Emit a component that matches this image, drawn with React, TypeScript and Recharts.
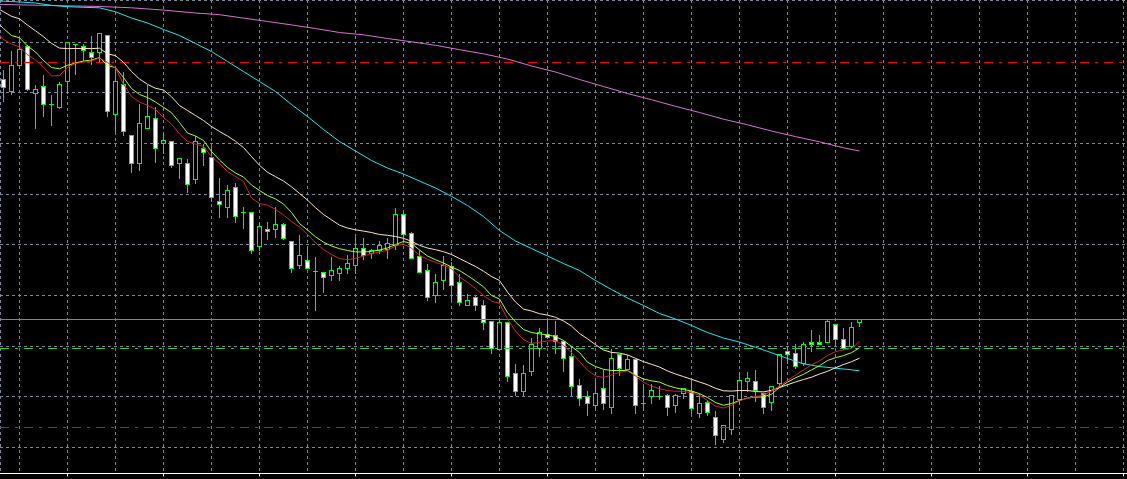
import React from "react";
import { ComposedChart, Bar, Line, XAxis, YAxis, CartesianGrid, ReferenceLine } from "recharts";

// ---- Candles (index 0..107), prices ----
const opens = [
  139.207, 139.087, 139.353, 139.545, 139.067, 139.137, 138.963, 138.933, 139.187, 139.557,
  139.543, 139.477, 139.477, 139.647, 138.857, 139.157, 138.647, 138.367, 138.717, 138.817,
  138.567, 138.587, 138.367, 138.367, 138.207, 138.523, 138.427, 137.987, 137.927, 138.127,
  137.877, 137.877, 137.537, 137.707, 137.707, 137.757, 137.587, 137.347, 137.397, 137.287,
  137.277, 137.247, 137.267, 137.317, 137.347, 137.517, 137.467, 137.497, 137.507, 137.547,
  137.857, 137.667, 137.437, 137.297, 137.047, 137.197, 137.337, 137.177, 136.947, 137.027,
  136.947, 136.787, 136.507, 136.777, 136.267, 136.087, 136.287, 136.517, 136.657, 136.647,
  136.587, 136.437, 136.147, 136.037, 135.947, 136.117, 135.927, 136.457, 136.307, 136.407,
  135.967, 136.037, 136.037, 136.047, 135.947, 136.067, 136.087, 135.867, 135.977, 135.827,
  135.607, 135.707, 136.007, 136.187, 136.187, 136.067, 135.977, 136.167, 136.487, 136.467,
  136.367, 136.577, 136.577, 136.577, 136.757, 136.607, 136.537, 136.777,
];
const highs = [
  139.307, 139.5, 139.62, 139.56, 139.16, 139.26, 139.06, 139.19, 139.58, 139.56,
  139.567, 139.65, 139.673, 139.66, 139.317, 139.283, 138.65, 138.967, 139.16, 138.933,
  138.667, 138.6, 138.42, 138.42, 138.647, 138.567, 138.533, 138.227, 138.157, 138.177,
  137.937, 137.88, 137.787, 137.787, 137.937, 137.777, 137.59, 137.657, 137.547, 137.437,
  137.28, 137.437, 137.347, 137.457, 137.637, 137.627, 137.517, 137.6, 137.627, 137.93,
  137.893, 137.687, 137.507, 137.367, 137.267, 137.447, 137.387, 137.267, 137.067, 137.047,
  137.007, 136.79, 136.807, 136.78, 136.367, 136.357, 136.627, 136.727, 136.797, 136.797,
  136.607, 136.55, 136.217, 136.097, 136.207, 136.307, 136.517, 136.467, 136.457, 136.41,
  136.147, 136.167, 136.147, 136.067, 136.067, 136.127, 136.207, 136.067, 136.007, 135.897,
  135.75, 136.05, 136.287, 136.287, 136.307, 136.07, 136.14, 136.46, 136.547, 136.567,
  136.587, 136.707, 136.657, 136.807, 136.76, 136.727, 136.787, 136.807,
];
const lows = [
  138.983, 139.06, 139.35, 139.1, 138.713, 138.833, 138.743, 138.913, 139.067, 139.253,
  139.4, 139.36, 139.383, 138.833, 138.683, 138.647, 138.273, 138.293, 138.713, 138.373,
  138.467, 138.327, 138.217, 138.073, 138.167, 138.347, 137.987, 137.827, 137.827, 137.777,
  137.717, 137.467, 137.497, 137.607, 137.627, 137.607, 137.277, 137.317, 137.315, 136.897,
  137.077, 137.197, 137.197, 137.267, 137.267, 137.407, 137.417, 137.47, 137.417, 137.507,
  137.577, 137.415, 137.275, 136.997, 136.977, 137.107, 137.007, 136.947, 136.945, 136.897,
  136.707, 136.467, 136.505, 136.187, 136.047, 136.047, 136.247, 136.437, 136.625, 136.467,
  136.287, 136.047, 135.947, 135.847, 135.907, 135.907, 135.867, 136.247, 136.297, 135.867,
  135.897, 135.967, 136.007, 135.847, 135.877, 136.017, 135.867, 135.827, 135.847, 135.557,
  135.577, 135.657, 135.957, 136.087, 135.99, 135.867, 135.897, 136.137, 136.367, 136.317,
  136.347, 136.487, 136.555, 136.575, 136.547, 136.507, 136.527, 136.737,
];
const closes = [
  139.127, 139.347, 139.51, 139.107, 139.107, 138.957, 138.963, 139.157, 139.577, 139.557,
  139.497, 139.427, 139.667, 138.887, 139.187, 138.687, 138.367, 138.767, 138.837, 138.517,
  138.597, 138.347, 138.417, 138.157, 138.587, 138.477, 138.027, 137.957, 138.097, 137.837,
  137.877, 137.497, 137.737, 137.687, 137.757, 137.617, 137.317, 137.447, 137.317, 137.287,
  137.227, 137.297, 137.317, 137.367, 137.517, 137.447, 137.497, 137.547, 137.567, 137.857,
  137.657, 137.417, 137.277, 137.027, 137.177, 137.347, 137.147, 136.977, 136.997, 136.947,
  136.777, 136.517, 136.777, 136.237, 136.087, 136.267, 136.557, 136.677, 136.627, 136.587,
  136.417, 136.137, 136.017, 135.967, 136.067, 135.967, 136.417, 136.317, 136.407, 135.947,
  135.967, 136.097, 136.037, 135.927, 136.047, 136.117, 135.917, 135.967, 135.877, 135.647,
  135.747, 136.047, 136.197, 136.217, 136.097, 135.927, 136.137, 136.457, 136.457, 136.337,
  136.557, 136.557, 136.557, 136.787, 136.607, 136.517, 136.727, 136.807,
];

// ---- Moving averages, one value per bar from index -1 to 107 ----
const maStartIndex = -1;
const maRed = [
  139.7, 139.61, 139.565, 139.535, 139.458, 139.405, 139.33, 139.245, 139.25, 139.33, 139.37,
  139.383, 139.395, 139.425, 139.38, 139.325, 139.165, 139.04, 138.985, 138.952, 138.91,
  138.83, 138.765, 138.665, 138.59, 138.565, 138.54, 138.44, 138.37, 138.29, 138.24,
  138.19, 138.025, 137.97, 137.953, 137.912, 137.854, 137.79, 137.735, 137.66, 137.577,
  137.51, 137.46, 137.42, 137.408, 137.421, 137.445, 137.47, 137.484, 137.502, 137.545,
  137.565, 137.523, 137.452, 137.412, 137.382, 137.355, 137.318, 137.235, 137.183, 137.12,
  137.05, 136.995, 136.97, 136.817, 136.693, 136.61, 136.57, 136.582, 136.596, 136.6,
  136.55, 136.48, 136.39, 136.304, 136.246, 136.23, 136.255, 136.281, 136.296, 136.245,
  136.182, 136.144, 136.118, 136.099, 136.093, 136.09, 136.078, 136.052, 136.0, 135.943,
  135.925, 135.95, 135.995, 136.025, 136.037, 136.055, 136.093, 136.147, 136.2, 136.254,
  136.306, 136.357, 136.397, 136.45, 136.488, 136.506, 136.52, 136.59,
];
const maGreen = [
  139.8, 139.72, 139.65, 139.627, 139.545, 139.485, 139.4, 139.33, 139.317, 139.352, 139.375,
  139.395, 139.404, 139.43, 139.35, 139.328, 139.23, 139.12, 139.06, 139.03, 138.985,
  138.932, 138.878, 138.78, 138.675, 138.645, 138.6, 138.49, 138.405, 138.33, 138.275,
  138.235, 138.155, 138.1, 138.05, 138.015, 137.965, 137.88, 137.77, 137.705, 137.637,
  137.583, 137.545, 137.518, 137.5, 137.487, 137.485, 137.491, 137.505, 137.525, 137.56,
  137.59, 137.57, 137.505, 137.445, 137.408, 137.375, 137.335, 137.3, 137.25, 137.195,
  137.137, 137.05, 137.015, 136.88, 136.785, 136.71, 136.68, 136.667, 136.654, 136.64,
  136.6, 136.54, 136.48, 136.383, 136.34, 136.312, 136.3, 136.3, 136.3, 136.255,
  136.214, 136.197, 136.184, 136.15, 136.127, 136.11, 136.095, 136.068, 136.03, 135.98,
  135.952, 135.97, 136.0, 136.025, 136.033, 136.037, 136.063, 136.13, 136.184, 136.227,
  136.262, 136.306, 136.348, 136.4, 136.428, 136.449, 136.478, 136.527,
];
const maCream = [
  139.933, 139.887, 139.842, 139.817, 139.754, 139.697, 139.638, 139.571, 139.524, 139.519, 139.52,
  139.521, 139.519, 139.523, 139.467, 139.448, 139.382, 139.29, 139.215, 139.162, 139.122,
  139.105, 139.038, 138.95, 138.9, 138.85, 138.8, 138.74, 138.69, 138.645, 138.592,
  138.53, 138.44, 138.352, 138.282, 138.238, 138.195, 138.137, 138.071, 138.004, 137.928,
  137.86, 137.807, 137.753, 137.725, 137.707, 137.694, 137.68, 137.66, 137.652, 137.64,
  137.622, 137.592, 137.552, 137.525, 137.508, 137.488, 137.46, 137.42, 137.38, 137.34,
  137.293, 137.24, 137.2, 137.083, 136.985, 136.914, 136.895, 136.868, 136.854, 136.832,
  136.795, 136.745, 136.67, 136.617, 136.558, 136.505, 136.481, 136.474, 136.456, 136.422,
  136.388, 136.362, 136.335, 136.296, 136.265, 136.239, 136.212, 136.185, 136.158, 136.122,
  136.097, 136.094, 136.1, 136.1, 136.09, 136.086, 136.102, 136.129, 136.158, 136.185,
  136.21, 136.233, 136.265, 136.292, 136.327, 136.36, 136.388, 136.423,
];
const cyanIdx = [
  -1, 0, 2, 4, 6, 8, 10, 12, 14, 16, 18, 20, 22, 24, 26, 28, 30, 32, 34, 36, 38, 40, 42, 44, 46, 48,
  50, 52, 54, 56, 58, 60, 62, 64, 66, 68, 70, 72, 74, 76, 78, 80, 82, 84, 86, 88, 90, 92, 94, 96,
  98, 100, 102, 104, 106, 107,
];
const cyanVals = [
  139.995, 139.993, 139.985, 139.975, 139.952, 139.938, 139.932, 139.927, 139.887, 139.825,
  139.775, 139.71, 139.65, 139.57, 139.49, 139.39, 139.29, 139.19, 139.09, 138.96, 138.84,
  138.71, 138.59, 138.495, 138.4, 138.325, 138.265, 138.195, 138.125, 138.042, 137.95,
  137.84, 137.7, 137.595, 137.52, 137.445, 137.37, 137.3, 137.2, 137.11, 137.025, 136.95,
  136.87, 136.815, 136.75, 136.68, 136.625, 136.584, 136.532, 136.478, 136.42, 136.367,
  136.34, 136.323, 136.307, 136.297,
];
const magentaIdx = [
  -1, 0, 6, 12, 16, 20, 24, 27, 30, 33, 36, 39, 42, 45, 48, 51, 54, 57, 60, 63, 66, 69, 72, 75,
  78, 81, 84, 87, 90, 93, 96, 99, 102, 105, 107,
];
const magentaVals = [
  139.962, 139.96, 139.95, 139.94, 139.927, 139.904, 139.875, 139.858, 139.824, 139.79,
  139.756, 139.72, 139.68, 139.657, 139.62, 139.587, 139.552, 139.508, 139.467, 139.415,
  139.345, 139.285, 139.21, 139.14, 139.07, 139.008, 138.942, 138.88, 138.813, 138.757,
  138.695, 138.639, 138.587, 138.527, 138.495,
];

// ---- Levels, grid and axis ticks ----
const levelRedHigh = 139.38;
const levelRedLow = 135.73;
const levelGreen = 136.52;
const bidPrice = 136.81;
const gridPrices = [139.58, 139.08, 138.57, 138.06, 137.56, 137.05, 136.54, 136.04, 135.53];
const gridBars = [2, 8, 14, 20, 26, 32, 38, 44, 50, 56, 62, 68, 74, 80, 86, 92, 98, 104, 110, 116, 122, 128, 134, 140];
const axisBars = [8, 20, 32, 44, 56, 68, 80, 92, 104, 116, 128, 140];
const priceDomain = [135.27, 140.005];
const barDomain = [-0.4375, 140.4375];

const candles = opens.map((o, k) => ({ i: k, open: o, high: highs[k], low: lows[k], close: closes[k] }));
const toSeries = (vals: number[]) => vals.map((v, k) => ({ i: k + maStartIndex, v }));
const redData = toSeries(maRed);
const greenData = toSeries(maGreen);
const creamData = toSeries(maCream);
const cyanData = cyanIdx.map((i, k) => ({ i, v: cyanVals[k] }));
const magentaData = magentaIdx.map((i, k) => ({ i, v: magentaVals[k] }));

const WICK = "#00FF00";

const Candle = (props: any) => {
  const { x, y, width, height, payload } = props;
  if (!payload || x == null || y == null) return null;
  const { open, high, low, close } = payload;
  const top = Math.min(y, y + height);
  const h = Math.abs(height);
  const span = high - low;
  const py = (v: number) => (span > 0 ? top + ((high - v) / span) * h : top);
  const cx = x + width / 2;
  const yo = py(open);
  const yc = py(close);
  const bTop = Math.min(yo, yc);
  const bBot = Math.max(yo, yc);
  const isDoji = Math.abs(open - close) < 1e-9;
  const bull = close > open;
  return (
    <g shapeRendering="crispEdges">
      <line x1={cx} x2={cx} y1={top} y2={top + h} stroke={WICK} strokeWidth={1} />
      {isDoji ? (
        <line x1={cx - 2.5} x2={cx + 2.5} y1={yo} y2={yo} stroke={WICK} strokeWidth={1} />
      ) : (
        <rect
          x={cx - 2}
          y={bTop}
          width={4}
          height={Math.max(bBot - bTop, 1)}
          fill={bull ? "#000000" : "#FFFFFF"}
          stroke={WICK}
          strokeWidth={1}
        />
      )}
    </g>
  );
};

export default function App() {
  return (
    <div style={{ position: "absolute", left: 0, top: 0, width: 1127, height: 479, background: "#000", overflow: "hidden" }}>
      <ComposedChart width={1127} height={479} data={candles} margin={{ top: 0, right: 0, bottom: 0, left: 0 }}>
        <XAxis
          dataKey="i"
          type="number"
          domain={barDomain}
          allowDataOverflow
          ticks={axisBars}
          height={5.5}
          axisLine={{ stroke: "#FFFFFF", strokeWidth: 1 }}
          tickLine={{ stroke: "#FFFFFF", strokeWidth: 1 }}
          tickSize={3}
          tickFormatter={() => ""}
          interval={0}
        />
        <XAxis xAxisId="grid" dataKey="i" type="number" domain={barDomain} allowDataOverflow ticks={gridBars} hide interval={0} />
        <YAxis type="number" domain={priceDomain} allowDataOverflow ticks={gridPrices} hide interval={0} />
        <CartesianGrid xAxisId="grid" stroke="#778899" strokeDasharray="3 3" shapeRendering="crispEdges" />
        <ReferenceLine y={bidPrice} stroke="#778899" strokeWidth={1} shapeRendering="crispEdges" />
        <ReferenceLine y={levelRedHigh} stroke="#FF0000" strokeWidth={1} strokeDasharray="9 6 3 6" shapeRendering="crispEdges" />
        <ReferenceLine y={levelGreen} stroke="#32CD32" strokeWidth={1} strokeDasharray="9 6 3 6" shapeRendering="crispEdges" />
        <ReferenceLine y={levelRedLow} stroke="#FF0000" strokeWidth={1} strokeDasharray="9 6 3 6" shapeRendering="crispEdges" />
        <Line data={magentaData} dataKey="v" stroke="#DA70D6" strokeWidth={1} dot={false} activeDot={false} isAnimationActive={false} />
        <Line data={cyanData} dataKey="v" stroke="#1EE6F0" strokeWidth={1} dot={false} activeDot={false} isAnimationActive={false} />
        <Bar dataKey={(d: any) => [d.low, d.high]} barSize={5} shape={<Candle />} isAnimationActive={false} />
        <Line data={creamData} dataKey="v" stroke="#FFE4C4" strokeWidth={1} dot={false} activeDot={false} isAnimationActive={false} />
        <Line data={greenData} dataKey="v" stroke="#A6FF1E" strokeWidth={1} dot={false} activeDot={false} isAnimationActive={false} />
        <Line data={redData} dataKey="v" stroke="#C8282D" strokeWidth={1} dot={false} activeDot={false} isAnimationActive={false} />
      </ComposedChart>
    </div>
  );
}
